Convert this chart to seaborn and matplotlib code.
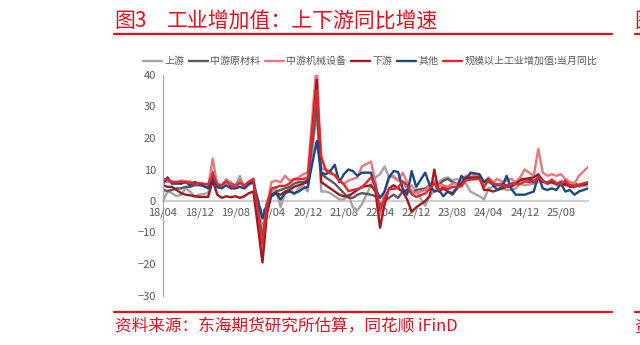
import numpy as np
import pandas as pd
import matplotlib
matplotlib.use("Agg")
import matplotlib.pyplot as plt
import seaborn as sns
from matplotlib.lines import Line2D

nan = np.nan
# monthly, 2018/04 .. 2026/02 ; January merged with February (NaN)
upstream = [0.0, 3.0, 2.5, 1.5, 2.0, 4.0, 3.0, 1.5, 2.0,
            nan, 2.5, 9.5, 4.0, 5.0, 7.0, 6.0, 4.5, 8.0, 4.0, 5.0, 6.0,
            nan, -9.0, 0.0, 3.0, 4.0, -2.0, 2.5, 4.0, 2.0, 4.0, 5.0, 3.0,
            nan, 28.0, 3.0, 3.0, 2.5, 1.5, 0.5, 0.5, 2.0, -2.0, -3.0, -1.0,
            nan, 5.0, 7.5, 8.5, 11.0, 7.5, 8.0, 6.5, 6.0, 4.0, 5.0, 3.0,
            nan, -1.5, 2.0, 3.0, 6.0, 7.0, 7.5, 6.5, 7.0, 6.5, 5.5, 3.0,
            nan, 1.5, 0.5, 4.0, 4.5, 5.0, 4.0, 3.5, 3.5, 4.0, 5.5, 5.0,
            nan, 5.5, 6.0, 6.5, 5.5, 6.0, 5.0, 6.5, 5.5, 5.0, 6.0, 4.5,
            nan, 5.0]
mid_raw = [3.5, 3.2, 3.5, 4.0, 4.0, 4.5, 4.5, 5.0, 5.0,
           nan, 4.5, 9.0, 5.0, 5.0, 6.0, 5.5, 5.0, 6.5, 5.0, 5.5, 6.0,
           nan, -12.0, -2.0, 2.0, 3.0, 3.5, 4.0, 4.5, 5.5, 6.0, 6.0, 6.5,
           nan, 30.0, 8.5, 7.5, 6.5, 5.5, 4.0, 2.5, 1.0, 1.0, 2.0, 2.5,
           nan, 2.0, 1.5, -1.0, 0.0, 1.0, 2.0, 1.0, 3.0, 3.5, 2.5, 3.5,
           nan, 4.0, 5.0, 5.5, 5.0, 6.5, 7.0, 6.0, 5.5, 6.5, 7.5, 7.0,
           nan, 7.5, 6.0, 6.0, 5.5, 5.0, 5.5, 5.0, 5.5, 6.0, 7.0, 7.0,
           nan, 6.5, 7.0, 6.0, 6.0, 6.0, 5.5, 6.0, 5.0, 5.0, 5.5, 5.0,
           nan, 5.5]
mid_mach = [6.5, 6.0, 6.3, 6.0, 6.5, 6.3, 6.2, 5.8, 5.5,
            nan, 4.5, 13.5, 5.0, 4.5, 6.5, 5.0, 4.5, 6.5, 4.5, 6.0, 7.2,
            nan, -16.0, -1.5, 6.0, 6.5, 6.0, 8.0, 6.5, 7.0, 7.5, 8.5, 9.0,
            nan, 44.0, 10.5, 10.0, 9.5, 8.0, 6.5, 5.5, 6.5, 7.0, 7.5, 11.0,
            nan, 12.5, 6.0, -4.5, 3.0, 8.0, 7.5, 6.5, 9.0, 6.0, 3.0, 2.5,
            nan, 3.5, 5.0, 6.5, 5.0, 5.0, 4.5, 5.5, 5.5, 6.5, 8.0, 8.5,
            nan, 8.0, 6.0, 7.5, 6.0, 7.0, 6.0, 6.5, 7.0, 6.0, 7.5, 10.0,
            nan, 8.0, 16.5, 9.0, 8.0, 8.5, 8.0, 8.5, 7.0, 6.0, 5.5, 8.0,
            nan, 10.8]
downstream = [5.0, 4.5, 4.5, 3.5, 2.5, 2.0, 1.8, 1.5, 1.3,
              nan, 1.3, 6.5, 2.0, 1.0, 1.5, 1.2, 1.5, 1.0, 1.5, 2.5, 3.0,
              nan, -19.5, -4.0, 2.0, 2.5, 2.0, 3.0, 3.5, 4.5, 5.0, 5.5, 6.0,
              nan, 38.5, 6.0, 5.0, 4.0, 3.0, 2.0, 1.5, 1.5, 2.5, 3.5, 4.5,
              nan, 5.0, 3.0, -8.5, -1.0, 4.0, 5.0, 4.0, 3.0, 0.5, -3.5, -2.0,
              nan, 0.0, 1.5, 10.0, 3.0, 4.0, 3.0, 2.0, 4.0, 5.5, 7.5, 7.5,
              nan, 7.5, 3.5, 3.5, 3.0, 3.5, 4.0, 4.5, 4.5, 5.5, 6.5, 7.0,
              nan, 7.5, 8.5, 6.5, 5.5, 6.0, 5.5, 5.0, 5.5, 4.5, 4.5, 5.0,
              nan, 5.5]
others = [5.5, 7.5, 5.5, 5.5, 5.5, 6.0, 5.0, 6.0, 5.5,
          nan, 4.0, 7.5, 4.5, 4.0, 5.0, 4.0, 4.0, 4.5, 4.0, 5.5, 6.0,
          nan, -5.5, -1.0, 1.5, 2.5, 0.5, 2.5, 3.0, 2.5, 3.0, 4.0, 4.5,
          nan, 19.0, 9.0, 8.5, 9.5, 11.5, 6.0, 8.5, 10.0, 9.5, 8.0, 9.0,
          nan, 9.0, 4.0, 1.0, 3.0, 7.5, 9.5, 9.2, 4.0, 2.0, 9.5, 4.5,
          nan, 9.0, 5.0, 3.0, 3.5, 1.5, 3.0, 2.5, 4.0, 8.0, 6.5, 9.0,
          nan, 8.5, 6.0, 7.0, 5.0, 3.5, 4.5, 8.0, 4.0, 2.0, 2.0, 2.0,
          nan, 3.0, 8.0, 4.0, 3.5, 4.0, 3.5, 5.5, 3.0, 3.5, 2.0, 3.0,
          nan, 4.0]
industry = [7.0, 6.8, 6.0, 6.0, 6.1, 5.8, 5.9, 5.4, 5.7,
            nan, 5.3, 8.5, 5.4, 5.0, 6.3, 4.8, 4.4, 5.8, 4.7, 6.2, 6.9,
            nan, -13.5, -1.1, 3.9, 4.4, 4.8, 4.8, 5.6, 6.9, 6.9, 7.0, 7.3,
            nan, 35.1, 14.1, 9.8, 8.8, 8.3, 6.4, 5.3, 3.1, 3.5, 3.8, 4.3,
            nan, 7.5, 5.0, -2.9, 0.7, 3.9, 3.8, 4.2, 6.3, 5.0, 2.2, 1.3,
            nan, 2.4, 3.9, 5.6, 3.5, 4.4, 3.7, 4.5, 4.5, 4.6, 6.6, 6.8,
            nan, 7.0, 4.5, 6.7, 5.6, 5.3, 5.1, 4.5, 5.4, 5.3, 5.4, 6.2,
            nan, 5.9, 7.7, 6.1, 5.8, 6.8, 5.7, 5.2, 6.5, 4.9, 4.8, 5.2,
            nan, 6.0]

series_names = ["上游", "中游原材料", "中游机械设备", "下游", "其他", "规模以上工业增加值:当月同比"]
series_vals = [upstream, mid_raw, mid_mach, downstream, others, industry]
colors = ["#a3a3a3", "#595959", "#e8777d", "#9e1a1f", "#1b4785", "#e3262d"]
tick_labels = ["18/04", "18/12", "19/08", "20/04", "20/12", "21/08",
               "22/04", "22/12", "23/08", "24/04", "24/12", "25/08"]

rows = []
for name, vals in zip(series_names, series_vals):
    for i, v in enumerate(vals):
        rows.append({"m": i, "v": v, "s": name})
df = pd.DataFrame(rows).dropna()

sns.set_theme(style="white")
plt.rcParams["font.family"] = ["Noto Sans CJK SC", "DejaVu Sans"]

fig = plt.figure(figsize=(6.4, 3.45), dpi=100)
ax = fig.add_axes([163 / 640, 1 - 295.5 / 345, (588 - 163) / 640, (295.5 - 75) / 345])

sns.lineplot(data=df, x="m", y="v", hue="s", hue_order=series_names,
             palette=dict(zip(series_names, colors)), linewidth=1.7,
             estimator=None, sort=True, legend=False, ax=ax)

ax.set_xlim(0, 94)
ax.set_ylim(-30, 40)
ax.set_yticks(range(-30, 41, 10))
ax.set_xticks(range(0, 89, 8))
ax.set_xticklabels(tick_labels)
ax.set_xlabel("")
ax.set_ylabel("")
for sp in ["top", "right"]:
    ax.spines[sp].set_visible(False)
ax.spines["left"].set_color("#a6a6a6")
ax.spines["left"].set_linewidth(0.9)
ax.spines["bottom"].set_position(("data", 0))
ax.spines["bottom"].set_color("#cfcfcf")
ax.spines["bottom"].set_linewidth(1.6)
ax.spines["bottom"].set_zorder(0.5)
ax.tick_params(axis="y", direction="out", length=3, width=0.8, color="#a6a6a6",
               labelsize=8, labelcolor="#595959", pad=2)
ax.tick_params(axis="x", direction="out", length=3, width=0.8, color="#cfcfcf",
               labelsize=8, labelcolor="#595959", pad=2)
ax.set_facecolor("none")

handles = [Line2D([0], [0], color=c, lw=1.7) for c in colors]
fig.legend(handles, series_names, loc="center", bbox_to_anchor=(370 / 640, 1 - 61 / 345),
           ncol=6, frameon=False, fontsize=7.2, handlelength=1.9, columnspacing=0.45,
           handletextpad=0.25, labelcolor="#595959")

red = "#e60f1e"
fig.text(114 / 640, 1 - 21 / 345, "图3", color=red, fontsize=15, va="center", ha="left")
fig.text(167 / 640, 1 - 21 / 345, "工业增加值：上下游同比增速", color=red, fontsize=15,
         va="center", ha="left")
fig.add_artist(Line2D([114 / 640, 612 / 640], [1 - 34 / 345, 1 - 34 / 345], color=red, lw=1.6))
fig.add_artist(Line2D([635 / 640, 1.0], [1 - 34 / 345, 1 - 34 / 345], color=red, lw=1.6))
fig.text(634 / 640, 1 - 21 / 345, "图", color=red, fontsize=15, va="center", ha="left")

fig.add_artist(Line2D([114 / 640, 612 / 640], [1 - 312 / 345, 1 - 312 / 345], color=red, lw=1.6))
fig.add_artist(Line2D([635 / 640, 1.0], [1 - 312 / 345, 1 - 312 / 345], color=red, lw=1.6))
fig.text(115 / 640, 1 - 327 / 345, "资料来源：东海期货研究所估算，同花顺 iFinD", color=red,
         fontsize=12, va="center", ha="left")
fig.text(634 / 640, 1 - 327 / 345, "资", color=red, fontsize=12, va="center", ha="left")

fig.savefig("out.png", dpi=100, facecolor="white")
